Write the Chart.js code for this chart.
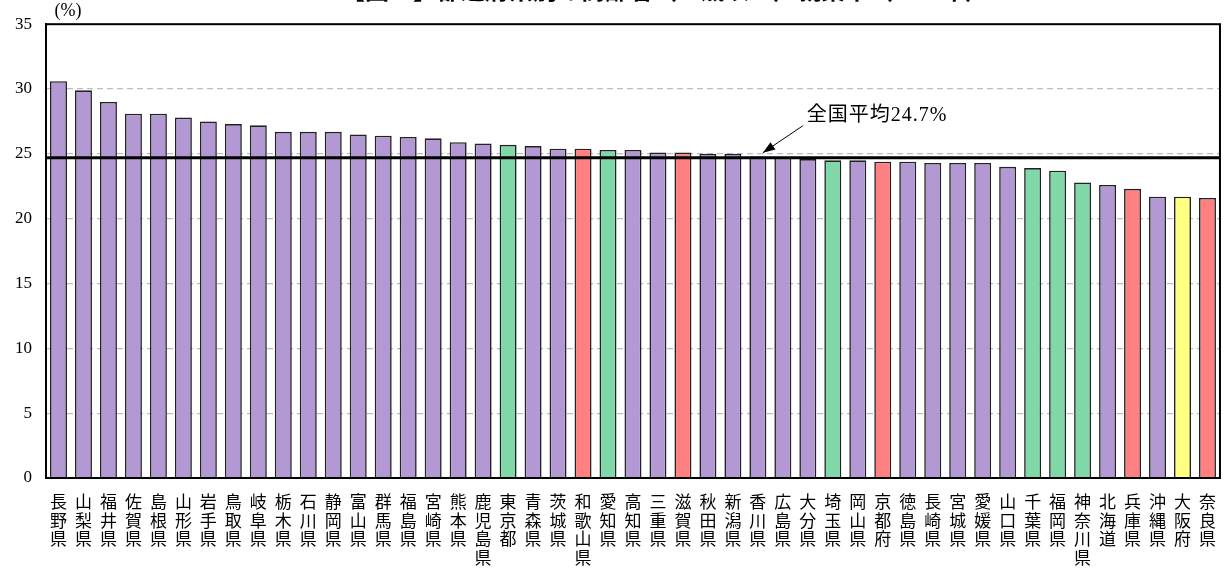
<!DOCTYPE html>
<html>
<head>
<meta charset="utf-8">
<script src="https://cdn.jsdelivr.net/npm/chart.js@4.4.0/dist/chart.umd.min.js"></script>
<style>
  body { margin: 0; background: #fff; }
  #wrap { width: 1224px; height: 574px; }
</style>
</head>
<body>
<div id="wrap"><canvas id="chart"></canvas></div>
<script>
// prefectures in the order shown (left to right)
const prefectures = [
  "長野県", "山梨県", "福井県", "佐賀県", "島根県", "山形県", "岩手県", "鳥取県",
  "岐阜県", "栃木県", "石川県", "静岡県", "富山県", "群馬県", "福島県", "宮崎県",
  "熊本県", "鹿児島県", "東京都", "青森県", "茨城県", "和歌山県", "愛知県", "高知県",
  "三重県", "滋賀県", "秋田県", "新潟県", "香川県", "広島県", "大分県", "埼玉県",
  "岡山県", "京都府", "徳島県", "長崎県", "宮城県", "愛媛県", "山口県", "千葉県",
  "福岡県", "神奈川県", "北海道", "兵庫県", "沖縄県", "大阪府", "奈良県"
];

// employment rate of people aged 65+ (%)
const rates = [
  30.6, 29.9, 29.0, 28.1, 28.1, 27.8, 27.5, 27.3,
  27.2, 26.7, 26.7, 26.7, 26.5, 26.4, 26.3, 26.2,
  25.9, 25.8, 25.7, 25.6, 25.4, 25.4, 25.3, 25.3,
  25.1, 25.1, 25.0, 25.0, 24.8, 24.7, 24.6, 24.5,
  24.5, 24.4, 24.4, 24.3, 24.3, 24.3, 24.0, 23.9,
  23.7, 22.8, 22.6, 22.3, 21.7, 21.7, 21.6
];

// colour group of each bar: o = other, m = metropolitan, k = kansai, s = osaka
const groups = [
  "o", "o", "o", "o", "o", "o", "o", "o",
  "o", "o", "o", "o", "o", "o", "o", "o",
  "o", "o", "m", "o", "o", "k", "m", "o",
  "o", "k", "o", "o", "o", "o", "o", "m",
  "o", "k", "o", "o", "o", "o", "o", "m",
  "m", "m", "o", "k", "o", "s", "k"
];

const nationalAvg = 24.7;
const avgLabel = "全国平均24.7%";
const avgIndex = 28; // bar the arrow points at
const yMin = 0, yMax = 35, yStep = 5;
const titleText = "【図４】都道府県別の高齢者（65歳以上）就業率（2017年）";

const groupColors = { o: "#b399d4", m: "#80d8a8", k: "#ff8080", s: "#ffff80" };
const FONT = "'Liberation Serif', 'Noto Sans CJK JP', serif";

// draw frame, average line, arrow note, title and unit
const extras = {
  id: "extras",
  afterDatasetsDraw(chart) {
    const { ctx, chartArea: a, scales } = chart;
    const y = scales.y.getPixelForValue(nationalAvg);
    ctx.save();
    // national average line over the bars
    ctx.strokeStyle = "#000";
    ctx.lineWidth = 3;
    ctx.beginPath();
    ctx.moveTo(a.left, y);
    ctx.lineTo(a.right, y);
    ctx.stroke();
    // frame
    ctx.lineWidth = 2;
    ctx.strokeRect(a.left, a.top, a.right - a.left, a.bottom - a.top);
    // arrow
    const tipX = scales.x.getPixelForValue(avgIndex) + 5;
    const tipY = y - 5;
    const tailX = tipX + 40, tailY = tipY - 27;
    ctx.lineWidth = 1;
    ctx.beginPath();
    ctx.moveTo(tailX, tailY);
    ctx.lineTo(tipX, tipY);
    ctx.stroke();
    const ang = Math.atan2(tipY - tailY, tipX - tailX);
    ctx.beginPath();
    ctx.moveTo(tipX, tipY);
    ctx.lineTo(tipX - 13 * Math.cos(ang - 0.35), tipY - 13 * Math.sin(ang - 0.35));
    ctx.lineTo(tipX - 13 * Math.cos(ang + 0.35), tipY - 13 * Math.sin(ang + 0.35));
    ctx.closePath();
    ctx.fillStyle = "#000";
    ctx.fill();
    ctx.font = "20px " + FONT;
    ctx.textAlign = "left";
    ctx.textBaseline = "middle";
    ctx.letterSpacing = "1px";
    ctx.fillText(avgLabel, tailX + 4, tailY - 10);
    ctx.letterSpacing = "0px";
    // unit
    ctx.font = "18px " + FONT;
    ctx.textAlign = "center";
    ctx.fillText("(%)", a.left + 22, a.top - 13);
    // title (cut by the top edge as in the source)
    ctx.font = "bold 24px " + FONT;
    ctx.fillText(titleText, 665, -7);
    ctx.restore();
  }
};

new Chart(document.getElementById("chart"), {
  type: "bar",
  data: {
    labels: prefectures.map(p => p.split("")),
    datasets: [{
      data: rates,
      backgroundColor: groups.map(g => groupColors[g]),
      borderColor: "#222",
      borderWidth: 1.6,
      borderSkipped: "bottom",
      barPercentage: 0.68,
      categoryPercentage: 1.0
    }]
  },
  options: {
    responsive: true,
    maintainAspectRatio: false,
    animation: false,
    layout: { padding: { top: 24, right: 2, left: 0, bottom: 0 } },
    plugins: {
      legend: { display: false },
      tooltip: { enabled: false }
    },
    scales: {
      x: {
        grid: { display: false },
        border: { display: false },
        ticks: {
          color: "#000",
          font: { family: FONT, size: 17, lineHeight: 1.1 },
          maxRotation: 0,
          autoSkip: false,
          padding: 8
        },
        afterFit(scale) { scale.height = 96; }
      },
      y: {
        min: yMin,
        max: yMax,
        border: { display: true, color: "#000", width: 2, dash: [6, 4] },
        grid: {
          drawTicks: false,
          color: ctx => (ctx.tick.value === yMin || ctx.tick.value === yMax) ? "rgba(0,0,0,0)" : "#bdbdbd",
          lineWidth: 1.3
        },
        ticks: {
          stepSize: yStep,
          color: "#000",
          font: { family: FONT, size: 17 },
          padding: 14
        },
        afterFit(scale) { scale.width = 46; }
      }
    }
  },
  plugins: [extras]
});
</script>
</body>
</html>
